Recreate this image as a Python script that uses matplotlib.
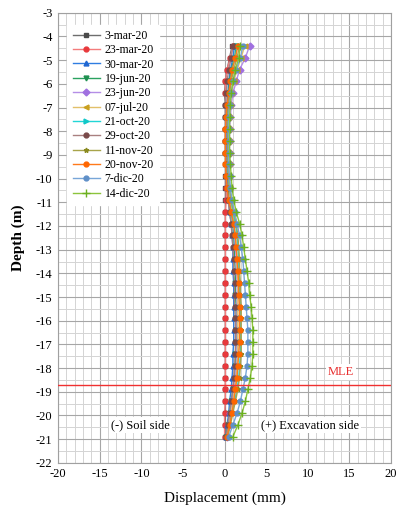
import numpy as np
import matplotlib
matplotlib.use("Agg")
import matplotlib.pyplot as plt
from matplotlib.ticker import MultipleLocator

plt.rcParams["font.family"] = ["Liberation Serif", "DejaVu Serif"]
plt.rcParams["axes.unicode_minus"] = False

# Depths of the inclinometer readings (m)
depth = [-4.4, -4.9, -5.4, -5.9, -6.4, -6.9, -7.4, -7.9, -8.4, -8.9, -9.4, -9.9,
         -10.4, -10.9, -11.4, -11.9, -12.4, -12.9, -13.4, -13.9, -14.4, -14.9,
         -15.4, -15.9, -16.4, -16.9, -17.4, -17.9, -18.4, -18.9, -19.4, -19.9,
         -20.4, -20.9]

labels = ["3-mar-20", "23-mar-20", "30-mar-20", "19-jun-20", "23-jun-20", "07-jul-20",
          "21-oct-20", "29-oct-20", "11-nov-20", "20-nov-20", "7-dic-20", "14-dic-20"]

# Displacement (mm) for each reading
d_3mar = [0.9, 0.6, 0.3, 0.1, 0.0, 0.1, 0.1, 0.1, 0.1, 0.1, 0.1, 0.1, 0.1, 0.1, 0.1, 0.1, 0.1,
          0.1, 0.1, 0.1, 0.1, 0.1, 0.1, 0.1, 0.1, 0.1, 0.1, 0.1, 0.1, 0.1, 0.1, 0.1, 0.1, 0.1]
d_23mar = [1.0, 0.7, 0.3, 0.1, 0.1, 0.2, 0.2, 0.2, 0.2, 0.2, 0.2, 0.2, 0.2, 0.2, 0.1, 0.1, 0.1,
           0.1, 0.1, 0.1, 0.1, 0.1, 0.1, 0.1, 0.1, 0.1, 0.1, 0.1, 0.1, 0.1, 0.1, 0.0, 0.0, 0.0]
d_30mar = [1.2, 1.0, 0.7, 0.5, 0.4, 0.3, 0.3, 0.3, 0.3, 0.3, 0.3, 0.3, 0.4, 0.5, 0.6, 0.8, 0.9,
           1.0, 1.0, 1.0, 1.1, 1.1, 1.1, 1.1, 1.1, 1.1, 1.0, 1.0, 0.9, 0.8, 0.6, 0.5, 0.3, 0.2]
d_19jun = [1.4, 1.2, 0.8, 0.6, 0.5, 0.4, 0.4, 0.4, 0.4, 0.4, 0.4, 0.5, 0.5, 0.6, 0.8, 1.0, 1.1,
           1.2, 1.2, 1.3, 1.3, 1.3, 1.4, 1.4, 1.4, 1.4, 1.3, 1.3, 1.2, 1.0, 0.8, 0.6, 0.4, 0.2]
d_23jun = [3.0, 2.5, 1.8, 1.4, 1.0, 0.8, 0.7, 0.6, 0.6, 0.6, 0.6, 0.6, 0.6, 0.7, 0.9, 1.1, 1.2,
           1.3, 1.4, 1.4, 1.5, 1.5, 1.5, 1.5, 1.5, 1.5, 1.5, 1.4, 1.3, 1.1, 0.9, 0.7, 0.5, 0.3]
d_07jul = [2.4, 2.0, 1.5, 1.1, 0.8, 0.6, 0.5, 0.5, 0.5, 0.5, 0.5, 0.5, 0.6, 0.7, 0.9, 1.1, 1.3,
           1.4, 1.5, 1.5, 1.6, 1.6, 1.6, 1.6, 1.6, 1.6, 1.6, 1.5, 1.4, 1.2, 1.0, 0.8, 0.5, 0.3]
d_21oct = [1.5, 1.3, 0.9, 0.7, 0.6, 0.5, 0.4, 0.4, 0.4, 0.4, 0.4, 0.5, 0.6, 0.8, 1.0, 1.3, 1.5,
           1.6, 1.7, 1.7, 1.8, 1.8, 1.9, 1.9, 1.9, 1.9, 1.9, 1.8, 1.7, 1.5, 1.2, 0.9, 0.6, 0.3]
d_29oct = [1.0, 0.8, 0.5, 0.3, 0.2, 0.1, 0.1, 0.1, 0.1, 0.1, 0.2, 0.2, 0.3, 0.4, 0.6, 0.8, 0.9,
           1.0, 1.1, 1.1, 1.2, 1.2, 1.2, 1.3, 1.3, 1.3, 1.3, 1.2, 1.1, 1.0, 0.8, 0.6, 0.4, 0.2]
d_11nov = [1.8, 1.5, 1.1, 0.8, 0.6, 0.5, 0.4, 0.4, 0.4, 0.4, 0.4, 0.5, 0.6, 0.8, 1.1, 1.4, 1.6,
           1.7, 1.8, 1.8, 1.9, 1.9, 2.0, 2.0, 2.0, 2.0, 2.0, 1.9, 1.8, 1.6, 1.3, 1.0, 0.7, 0.4]
d_20nov = [1.6, 1.3, 0.9, 0.7, 0.5, 0.3, 0.2, 0.1, 0.1, 0.1, 0.1, 0.2, 0.3, 0.5, 0.8, 1.1, 1.3,
           1.4, 1.5, 1.6, 1.7, 1.7, 1.8, 1.8, 1.8, 1.8, 1.7, 1.6, 1.5, 1.3, 1.1, 0.9, 0.6, 0.3]
d_7dic = [2.2, 1.9, 1.4, 1.0, 0.8, 0.6, 0.5, 0.5, 0.5, 0.5, 0.5, 0.6, 0.7, 0.9, 1.2, 1.5, 1.8,
          2.0, 2.2, 2.3, 2.4, 2.5, 2.6, 2.7, 2.8, 2.8, 2.8, 2.7, 2.5, 2.2, 1.9, 1.5, 1.0, 0.5]
d_14dic = [1.9, 1.7, 1.3, 1.0, 0.8, 0.7, 0.6, 0.6, 0.6, 0.6, 0.7, 0.8, 0.9, 1.1, 1.4, 1.8, 2.1,
           2.3, 2.5, 2.7, 2.9, 3.0, 3.2, 3.3, 3.4, 3.4, 3.4, 3.3, 3.1, 2.8, 2.5, 2.1, 1.6, 1.0]

series = [d_3mar, d_23mar, d_30mar, d_19jun, d_23jun, d_07jul,
          d_21oct, d_29oct, d_11nov, d_20nov, d_7dic, d_14dic]

line_colors = ["#6e6e6e", "#f47c7c", "#2f7de1", "#2aa260", "#b48ee6", "#e2c06a",
               "#22d6d6", "#a98080", "#a8a44a", "#ff7a1a", "#78a6d8", "#8cc43c"]
mk_colors = ["#4a4a4a", "#e8393c", "#1f66d1", "#1f9050", "#a070e0", "#c9a020",
             "#10c8c8", "#7a4a4a", "#8a8a20", "#ff6600", "#6090c8", "#6cb020"]
markers = ["s", "o", "^", "v", "D", "<", ">", "o", "*", "o", "o", "+"]

mle_depth = -18.7

fig = plt.figure(figsize=(4.01, 5.12), dpi=100)
ax = fig.add_axes([0.145, 0.096, 0.830, 0.879])

for vals, lab, lc, mc, m in zip(series, labels, line_colors, mk_colors, markers):
    ax.plot(vals, depth, color=lc, lw=1.0, marker=m, ms=3.5 if m != "+" else 5.5,
            mfc=mc, mec=mc, mew=1.0, label=lab)

ax.axhline(mle_depth, color="#f03030", lw=1.0, zorder=5)
ax.text(14, -18.15, "MLE", color="#e83030", fontsize=9, ha="center", va="center",
        bbox=dict(facecolor="white", edgecolor="none", pad=1.5))
ax.text(-10.1, -20.4, "(-) Soil side", fontsize=9, ha="center", va="center",
        bbox=dict(facecolor="white", edgecolor="none", pad=1.5), zorder=6)
ax.text(10.3, -20.4, "(+) Excavation side", fontsize=9, ha="center", va="center",
        bbox=dict(facecolor="white", edgecolor="none", pad=1.5), zorder=6)

ax.set_xlim(-20, 20)
ax.set_ylim(-22, -3)
ax.xaxis.set_major_locator(MultipleLocator(5))
ax.xaxis.set_minor_locator(MultipleLocator(1))
ax.yaxis.set_major_locator(MultipleLocator(1))
ax.yaxis.set_minor_locator(MultipleLocator(0.5))
ax.grid(which="major", color="#a6a6a6", lw=0.8)
ax.grid(which="minor", color="#d4d4d4", lw=0.7)
ax.set_axisbelow(True)
ax.tick_params(which="both", length=0, labelsize=9, pad=4)
for s in ax.spines.values():
    s.set_color("#a0a0a0")

ax.set_xlabel("Displacement (mm)", fontsize=11, labelpad=8)
ax.set_ylabel("Depth (m)", fontsize=11, fontweight="bold", labelpad=8)

leg = ax.legend(loc="upper left", bbox_to_anchor=(0.01, 0.987), fontsize=8.5,
                handlelength=2.3, labelspacing=0.2, borderpad=0.45,
                handletextpad=0.4, fancybox=False, framealpha=1, edgecolor="white")
leg.set_zorder(10)

fig.savefig("out.png", dpi=100)
